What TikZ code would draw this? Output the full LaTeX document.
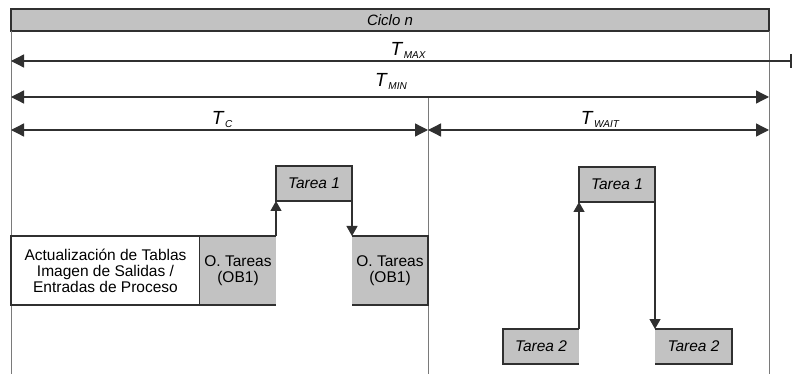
\documentclass[tikz,border=0pt]{standalone}
\usepackage{fontspec}
\setmainfont{Liberation Sans}
\usetikzlibrary{arrows.meta}
\definecolor{boxgrey}{HTML}{C2C2C2}
\definecolor{linedark}{HTML}{303030}
\definecolor{linegrey}{HTML}{7A7A7A}
\begin{document}
\begin{tikzpicture}[x=1pt,y=-1pt,
  every node/.style={inner sep=0pt,outer sep=0pt},
  fillbox/.style={fill=boxgrey,draw=none,minimum width=76pt,minimum height=35pt,
    font=\fontsize{15.5}{16}\selectfont\itshape},
  bigbox/.style={fill=boxgrey,draw=none,minimum width=76pt,minimum height=69pt,
    align=center,font=\fontsize{15.5}{16}\selectfont},
  edge/.style={draw=linedark,line width=1.3pt},
  guide/.style={draw=linegrey,line width=1pt},
  dimline/.style={draw=linedark,line width=1.3pt},
  bigtip/.style={-{Triangle[length=13pt,width=13pt]}},
  smalltip/.style={-{Triangle[length=10pt,width=11pt]}},
  tlabel/.style={anchor=base,font=\itshape}
]
\useasboundingbox (0,0) rectangle (793,374);

% Ciclo bar
\node[fill=boxgrey,draw=linedark,line width=1.3pt,minimum width=758pt,minimum height=22pt,
  font=\fontsize{15}{16}\selectfont\itshape] (ciclo) at (390,20) {Ciclo n};

% guide lines
\coordinate (leftbot) at (11,374);
\coordinate (rightbot) at (769,374);
\coordinate (midtop) at (428,97);
\coordinate (midbot) at (428,374);
\draw[guide] (ciclo.south west) -- (leftbot);
\draw[guide] (ciclo.south east) -- (rightbot);
\draw[guide] (midtop) -- (midbot);

% dimension arrows
\coordinate (maxL) at (11,61);
\coordinate (maxR) at (792,61);
\coordinate (minL) at (11,97);
\coordinate (minR) at (769,97);
\coordinate (cL) at (11,130);
\coordinate (cR) at (428,130);
\coordinate (wR) at (769,130);
\draw[dimline,{Triangle[length=13pt,width=13pt]}-{Bar[width=14pt,line width=2pt]}] (maxL) -- (maxR);
\draw[dimline,{Triangle[length=13pt,width=13pt]}-{Triangle[length=13pt,width=13pt]}] (minL) -- (minR);
\draw[dimline,{Triangle[length=13pt,width=13pt]}-{Triangle[length=13pt,width=13pt]}] (cL) -- (cR);
\draw[dimline,{Triangle[length=13pt,width=13pt]}-{Triangle[length=13pt,width=13pt]}] (cR) -- (wR);

% labels
\newcommand{\tsub}[1]{{\fontsize{19}{19}\selectfont\itshape T}\raisebox{-3pt}{\fontsize{10}{10}\selectfont\itshape\,#1}}
\node[tlabel] (lmax) at (408,56) {\tsub{MAX}};
\node[tlabel] (lmin) at (391,87) {\tsub{MIN}};
\node[tlabel] (lc) at (222,125) {\tsub{C}};
\node[tlabel] (lw) at (600,125) {\tsub{WAIT}};

% left part boxes
\node[draw=linedark,line width=1.3pt,fill=white,minimum width=189pt,minimum height=69pt,
  align=center,font=\fontsize{15.5}{16}\selectfont] (act) at (105.5,270.5)
  {Actualización de Tablas\\Imagen de Salidas /\\Entradas de Proceso};
\node[bigbox] (ob1a) at (238,270.5) {O. Tareas\\(OB1)};
\node[fillbox] (t1a) at (314,183.5) {Tarea 1};
\node[bigbox] (ob1b) at (390,270.5) {O. Tareas\\(OB1)};

\draw[edge] (ob1a.north west) -- (ob1a.north east);
\draw[edge] (ob1a.south west) -- (ob1a.south east);
\draw[edge] (t1a.north west) rectangle (t1a.south east);
\draw[edge] (ob1b.north west) -- (ob1b.north east) -- (ob1b.south east) -- (ob1b.south west);
\draw[edge,smalltip] (ob1a.north east) -- (t1a.south west);
\draw[edge,smalltip] (t1a.south east) -- (ob1b.north west);

% right part boxes
\node[fillbox] (t1b) at (617,184.5) {Tarea 1};
\node[fillbox] (t2a) at (541,346.5) {Tarea 2};
\node[fillbox,minimum width=77pt] (t2b) at (693.5,346.5) {Tarea 2};

\draw[edge] (t1b.north west) rectangle (t1b.south east);
\draw[edge] (t2a.north east) -- (t2a.north west) -- (t2a.south west) -- (t2a.south east);
\draw[edge] (t2b.north west) -- (t2b.north east) -- (t2b.south east) -- (t2b.south west);
\draw[edge,smalltip] (t2a.north east) -- (t1b.south west);
\draw[edge,smalltip] (t1b.south east) -- (t2b.north west);
\end{tikzpicture}
\end{document}
